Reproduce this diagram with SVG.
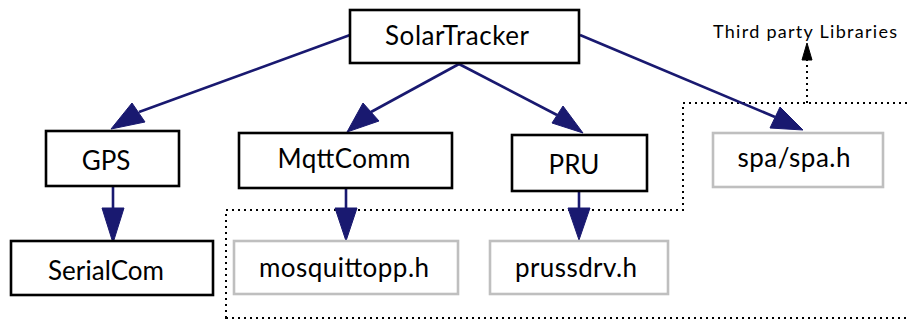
<svg xmlns="http://www.w3.org/2000/svg" width="907" height="320" viewBox="0 0 907 320">
<style>
.n rect{fill:#fff;stroke:#000;stroke-width:2.6}
.g rect{fill:#fff;stroke:#bfbfbf;stroke-width:2.6}
text{font-family:Lato,"Open Sans",sans-serif;font-size:26px;fill:#000;text-anchor:middle}
.e line{stroke:#191970;stroke-width:2.6}
.e polygon{fill:#191970;stroke:#191970;stroke-width:1}
.cl{fill:none;stroke:#000;stroke-width:2;stroke-dasharray:2 4}
</style>
<rect width="907" height="320" fill="#fff"/>
<path id="cluster" class="cl" d="M226,318 L226,210 L683,210 L683,103 L915,103 L915,318 Z"/>
<g id="label-third-party">
<line x1="807" y1="103" x2="807" y2="58" stroke="#000" stroke-width="2" stroke-dasharray="2 4"/>
<polygon points="807,43 802,60 812,60" fill="#000" stroke="#000" stroke-width="1"/>
<text x="805" y="38" style="font-size:18px" textLength="184">Third party Libraries</text>
</g>
<g id="edges" class="e">
<line x1="350" y1="35" x2="139" y2="112"/>
<polygon points="111,129 132,103 145,122"/>
<line x1="459" y1="64" x2="371" y2="112"/>
<polygon points="347,132 363,103 379,121"/>
<line x1="459" y1="64" x2="557" y2="115"/>
<polygon points="583,133 563,106 552,123"/>
<line x1="580" y1="35" x2="775" y2="117"/>
<polygon points="803,130 780,107 770,128"/>
<line x1="113" y1="186" x2="113" y2="208"/>
<polygon points="113,243 102,208 124,208"/>
<line x1="346" y1="188" x2="346" y2="208"/>
<polygon points="346,241 335,208 357,208"/>
<line x1="579" y1="191" x2="579" y2="208"/>
<polygon points="579,240 568,208 590,208"/>
</g>
<g id="SolarTracker" class="n"><rect x="350" y="10" width="229" height="53"/><text x="457" y="45" textLength="144">SolarTracker</text></g>
<g id="GPS" class="n"><rect x="46" y="131" width="133" height="55"/><text x="106" y="170">GPS</text></g>
<g id="SerialCom" class="n"><rect x="11" y="241" width="202" height="54"/><text x="106" y="280" textLength="116">SerialCom</text></g>
<g id="MqttComm" class="n"><rect x="239" y="133" width="213" height="55"/><text x="344" y="168" textLength="133">MqttComm</text></g>
<g id="PRU" class="n"><rect x="512" y="135" width="135" height="56"/><text x="574" y="174">PRU</text></g>
<g id="mosquittopp" class="g"><rect x="234" y="241" width="224" height="53"/><text x="344" y="277" textLength="170">mosquittopp.h</text></g>
<g id="prussdrv" class="g"><rect x="490" y="241" width="178" height="53"/><text x="576" y="277" textLength="122">prussdrv.h</text></g>
<g id="spa" class="g"><rect x="713" y="133" width="170" height="54"/><text x="794" y="167" textLength="113">spa/spa.h</text></g>
</svg>
